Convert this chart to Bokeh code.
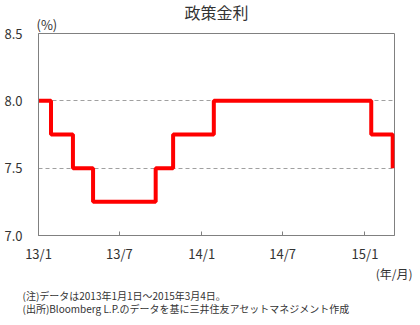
import pandas as pd
from bokeh.plotting import figure
from bokeh.models import FixedTicker, Range1d, Title
from bokeh.embed import file_html
from bokeh.resources import INLINE

# Data: policy rate (%) change dates
dates = ["2013-01-01", "2013-01-29", "2013-03-19", "2013-05-03", "2013-09-20",
         "2013-10-29", "2014-01-28", "2015-01-15", "2015-03-04"]
rates = [8.00, 7.75, 7.50, 7.25, 7.50, 7.75, 8.00, 7.75, 7.50]
tick_dates = ["2013-01-01", "2013-07-01", "2014-01-01", "2014-07-01", "2015-01-01"]
tick_labels = ["13/1", "13/7", "14/1", "14/7", "15/1"]
y_ticks = [7.0, 7.5, 8.0, 8.5]
notes = ["(注)データは2013年1月1日～2015年3月4日。",
         "(出所)Bloomberg L.P.のデータを基に三井住友アセットマネジメント作成"]

FONT = "Noto Sans CJK JP"
x = pd.to_datetime(dates)

def ms(d):
    return pd.Timestamp(d).value / 1e6

p = figure(width=420, height=325, x_axis_type="datetime", output_backend="svg",
           toolbar_location=None,
           x_range=Range1d(ms("2013-01-01"), ms("2015-03-08")),
           y_range=Range1d(7.0, 8.5),
           min_border_left=38, min_border_right=26, min_border_top=33, min_border_bottom=90)

p.step(x, rates, mode="after", line_color="#ff0000", line_width=4)

p.xaxis.ticker = FixedTicker(ticks=[ms(d) for d in tick_dates])
p.xaxis.major_label_overrides = {ms(d): l for d, l in zip(tick_dates, tick_labels)}
p.yaxis.ticker = FixedTicker(ticks=y_ticks)
p.yaxis.major_label_overrides = {v: f"{v:.1f}" for v in y_ticks}

for ax in (p.xaxis, p.yaxis):
    ax.axis_line_color = "#808080"
    ax.major_tick_line_color = "#808080"
    ax.minor_tick_line_color = None
    ax.major_label_text_font = FONT
    ax.major_label_text_font_size = "13px"
    ax.major_label_text_color = "#333333"
p.xaxis.major_tick_in = 4
p.xaxis.major_tick_out = 0
p.xaxis.major_label_standoff = 8
p.yaxis.major_tick_in = 0
p.yaxis.major_tick_out = 0
p.yaxis.major_label_standoff = 16

p.xgrid.grid_line_color = None
p.ygrid.grid_line_color = "#a0a0a0"
p.ygrid.grid_line_dash = "4 3"
p.outline_line_color = "#808080"
p.outline_line_width = 1
p.background_fill_color = "white"
p.border_fill_color = "white"

def style_title(t, size):
    t.text_font = FONT
    t.text_font_size = size
    t.text_font_style = "normal"
    t.text_color = "#333333"

def add_title(text, size, loc, align, offset, standoff=0, line_height=None):
    t = Title(text=text, align=align, offset=offset, standoff=standoff)
    style_title(t, size)
    if line_height is not None:
        t.text_line_height = line_height
    p.add_layout(t, loc)
    return t

# unit label nearest to the frame, main title pulled down toward the same row
add_title("(%)", "13px", "above", "left", -2, 0)
p.title.text = "政策金利"
p.title.align = "center"
p.title.standoff = -22
style_title(p.title, "16px")

add_title("(年/月)", "12px", "below", "right", -18, -5)
add_title("\n".join(notes), "10px", "below", "left", -16, 12, line_height=0.85)

open("out.html", "w").write(file_html(p, INLINE))
